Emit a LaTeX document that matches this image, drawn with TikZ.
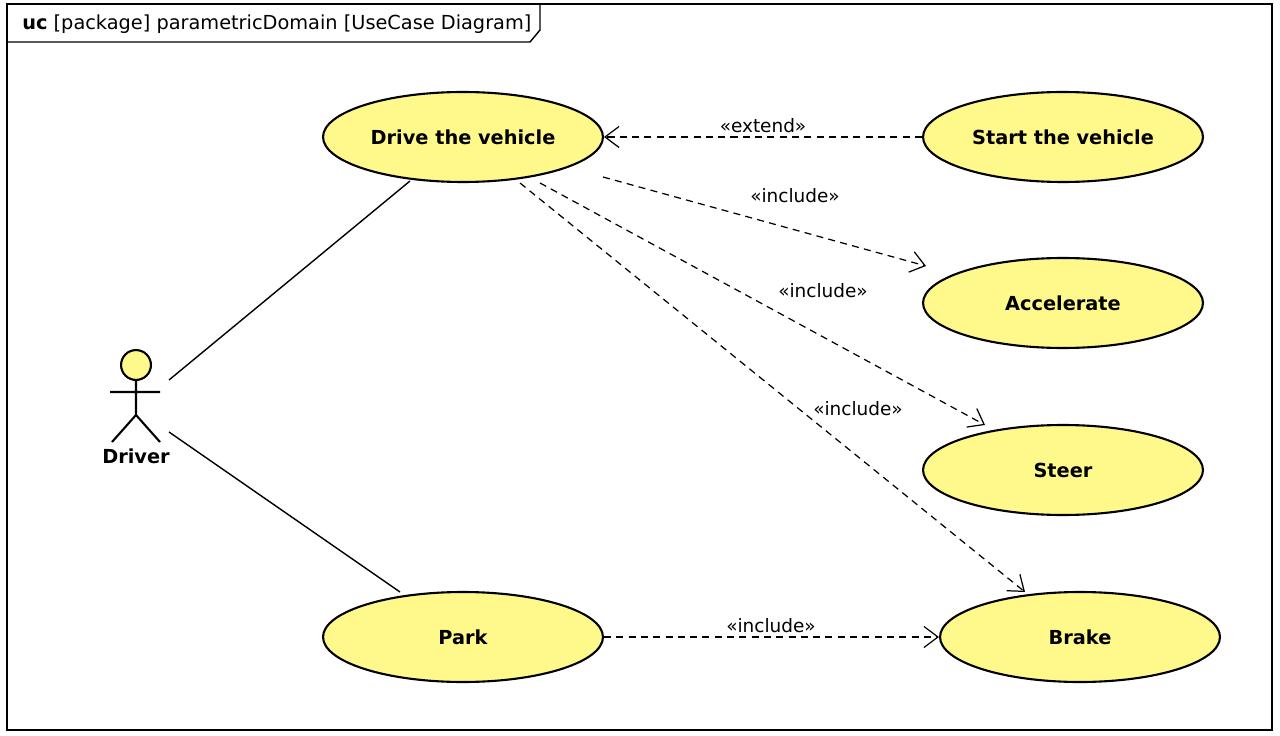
\documentclass[tikz,border=0pt]{standalone}
\usepackage{fontspec}
\setmainfont{DejaVu Sans}
\usetikzlibrary{shapes.geometric,arrows.meta}
\begin{document}
\begin{tikzpicture}[x=0.02cm,y=-0.02cm,
  uc/.style={ellipse,draw,line width=1.2pt,fill=yellow!45!white,minimum width=5.6cm,minimum height=1.8cm,inner sep=0pt,font=\fontsize{11}{13}\selectfont\bfseries},
  dep/.style={dash pattern=on 4pt off 3pt,line width=0.7pt,-{Straight Barb[length=8pt,width=12pt]}},
  lab/.style={font=\fontsize{10.5}{12}\selectfont,inner sep=1pt},
  assoc/.style={line width=0.8pt}]
\useasboundingbox (0,0) rectangle (1280,736);
\draw[line width=0.8pt] (7,4) rectangle (1272,730);
\draw[line width=0.8pt] (7,42) -- (530,42) -- (540,30) -- (540,4);
\node[anchor=west,font=\fontsize{11}{13}\selectfont,inner sep=0] (title) at (22,24) {\textbf{uc} [package] parametricDomain [UseCase Diagram]};
\node[uc] (drive) at (463,137) {Drive the vehicle};
\node[uc] (start) at (1063,137) {Start the vehicle};
\node[uc] (acc) at (1063,303) {Accelerate};
\node[uc] (steer) at (1063,470) {Steer};
\node[uc] (park) at (463,637) {Park};
\node[uc] (brake) at (1080,637) {Brake};
% actor
\node[circle,draw,line width=1.2pt,fill=yellow!45!white,minimum size=30pt*0.567,inner sep=0] (head) at (136,365) {};
\draw[line width=1.2pt] (head.south) -- (136,415) coordinate (hip) (110,392) -- (160,392) (112,442) -- (hip) -- (160,442);
\node[font=\fontsize{11}{13}\selectfont\bfseries] (driver) at (136,456) {Driver};
\coordinate (a1) at (169,380); \coordinate (a2) at (169,432);
\coordinate (b1) at (410,181); \coordinate (b2) at (400,592);
\draw[assoc] (a1) -- (b1);
\draw[assoc] (a2) -- (b2);
\draw[dep] (start) -- (drive);
\node[lab] at (763,126) {«extend»};
\coordinate (d1) at (603,177); \coordinate (d2) at (540,183); \coordinate (d3) at (520,183);
\draw[dep] (d1) -- (926,266);
\node[lab] at (795,196) {«include»};
\draw[dep] (d2) -- (985,425);
\node[lab] at (823,291) {«include»};
\draw[dep] (d3) -- (1025,592);
\node[lab] at (858,409) {«include»};
\draw[dep] (park) -- (brake);
\node[lab] at (771,626) {«include»};
\end{tikzpicture}
\end{document}
